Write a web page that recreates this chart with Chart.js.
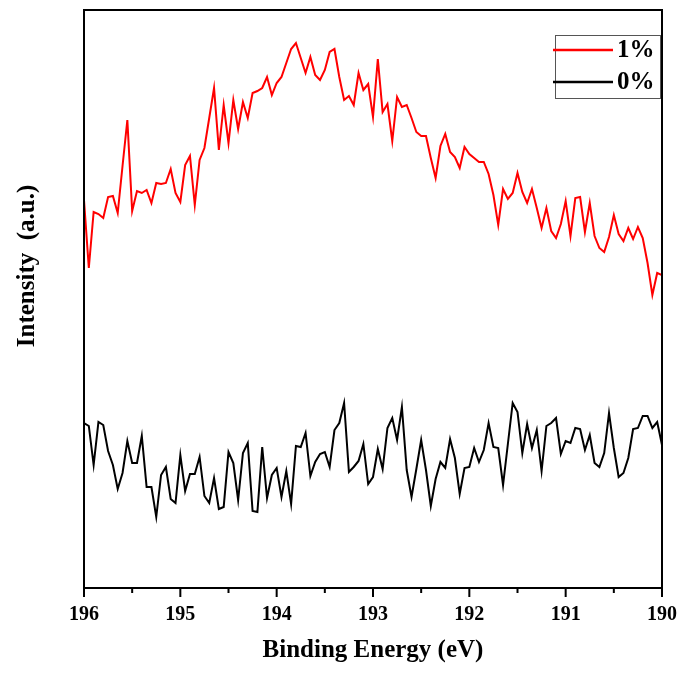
<!DOCTYPE html>
<html>
<head>
<meta charset="utf-8">
<script src="https://cdn.jsdelivr.net/npm/chart.js@4/dist/chart.umd.min.js"></script>
<style>
html,body{margin:0;padding:0;background:#fff;}
#wrap{width:681px;height:673px;}
</style>
</head>
<body>
<div id="wrap"><canvas id="c" width="681" height="673"></canvas></div>
<script>
// Binding energy grid (eV), scanned from 196 down to 190 in 0.05 eV steps
const energyStart = 196;
const energyStep = 0.05;
const pointCount = 121;

// Series labels
const seriesLabels = ["1%", "0%"];

// Intensity (a.u.)
const intensity1 = [
  388, 320, 376, 374, 370, 391, 392, 375, 422, 468,
  377, 397, 395, 398, 385, 405, 404, 405, 419, 395,
  386, 423, 432, 383, 428, 440, 470, 500, 438, 483,
  445, 488, 459, 486, 470, 495, 497, 500, 511, 493,
  505, 511, 525, 539, 545, 530, 515, 531, 513, 508,
  518, 536, 539, 511, 488, 492, 483, 515, 498, 504,
  471, 529, 476, 484, 447, 491, 481, 483, 470, 456,
  452, 452, 430, 410, 442, 454, 436, 431, 420, 441,
  434, 430, 426, 426, 414, 393, 363, 399, 389, 395,
  415, 396, 385, 399, 380, 360, 380, 357, 350, 364,
  387, 352, 390, 391, 356, 385, 352, 340, 336, 351,
  373, 354, 347, 360, 349, 361, 350, 325, 293, 315, 313
];
const intensity0 = [
  165, 162, 123, 166, 163, 137, 123, 99, 115, 147,
  125, 125, 152, 101, 101, 71, 113, 121, 89, 85,
  133, 97, 114, 114, 131, 92, 85, 110, 79, 81,
  136, 125, 88, 135, 145, 77, 76, 141, 90, 113,
  120, 91, 117, 84, 142, 141, 155, 112, 126, 134,
  136, 121, 158, 165, 185, 116, 121, 127, 144, 104,
  111, 139, 119, 160, 170, 148, 181, 118, 91, 119,
  148, 118, 82, 109, 126, 120, 149, 130, 94, 120,
  121, 140, 126, 138, 165, 141, 140, 103, 144, 185,
  176, 135, 164, 140, 158, 117, 162, 165, 170, 134,
  147, 145, 160, 159, 138, 153, 125, 121, 135, 175,
  140, 111, 115, 130, 159, 160, 172, 172, 160, 166, 143
];

// Axis ticks
const xTickValues = [196, 195, 194, 193, 192, 191, 190];
const xMinorTickValues = [195.5, 194.5, 193.5, 192.5, 191.5, 190.5];

const energies = [];
for (let i = 0; i < pointCount; i++) energies.push(+(energyStart - i * energyStep).toFixed(2));

const toPoints = arr => arr.map((v, i) => ({x: energies[i], y: v}));

const FONT = "'Liberation Serif', 'Times New Roman', serif";

const framePlugin = {
  id: 'frame',
  afterDraw(chart) {
    const {ctx, chartArea: a, scales} = chart;
    const xs = scales.x;
    ctx.save();
    ctx.strokeStyle = '#000';
    ctx.lineWidth = 2;
    ctx.lineCap = 'butt';
    // frame
    ctx.beginPath();
    ctx.moveTo(a.left, a.top - 1); ctx.lineTo(a.left, a.bottom + 1);
    ctx.moveTo(a.right, a.top - 1); ctx.lineTo(a.right, a.bottom + 1);
    ctx.moveTo(a.left - 1, a.bottom); ctx.lineTo(a.right + 1, a.bottom);
    ctx.moveTo(a.left - 1, a.top); ctx.lineTo(a.right + 1, a.top);
    ctx.stroke();
    // ticks
    ctx.beginPath();
    xTickValues.forEach(v => {
      const px = xs.getPixelForValue(v);
      ctx.moveTo(px, a.bottom); ctx.lineTo(px, a.bottom + 9);
    });
    xMinorTickValues.forEach(v => {
      const px = xs.getPixelForValue(v);
      ctx.moveTo(px, a.bottom); ctx.lineTo(px, a.bottom + 5);
    });
    ctx.stroke();
    // y axis title
    ctx.save();
    ctx.translate(34, 266);
    ctx.rotate(-Math.PI / 2);
    ctx.fillStyle = '#000';
    ctx.font = 'bold 25px ' + FONT;
    ctx.textAlign = 'center';
    ctx.textBaseline = 'alphabetic';
    ctx.fillText('Intensity  (a.u.)', 0, 0);
    ctx.restore();
    // legend
    const bx = 555, by = 35, bw = 105, bh = 63;
    ctx.lineWidth = 1;
    ctx.strokeStyle = '#555';
    ctx.strokeRect(bx + 0.5, by + 0.5, bw, bh);
    chart.data.datasets.forEach((ds, k) => {
      const ly = [50, 82][k];
      ctx.strokeStyle = ds.borderColor;
      ctx.lineWidth = 2.5;
      ctx.beginPath();
      ctx.moveTo(553, ly); ctx.lineTo(613, ly);
      ctx.stroke();
      ctx.fillStyle = '#000';
      ctx.font = 'bold 25px ' + FONT;
      ctx.textAlign = 'left';
      ctx.textBaseline = 'middle';
      ctx.fillText(ds.label, 617, ly + 1);
    });
    ctx.restore();
  }
};

new Chart(document.getElementById('c'), {
  type: 'line',
  data: {
    datasets: [
      {label: seriesLabels[0], data: toPoints(intensity1), borderColor: '#ff0000', borderWidth: 2, pointRadius: 0, tension: 0, fill: false},
      {label: seriesLabels[1], data: toPoints(intensity0), borderColor: '#000000', borderWidth: 2, pointRadius: 0, tension: 0, fill: false}
    ]
  },
  options: {
    responsive: false,
    animation: false,
    events: [],
    layout: {padding: {left: 0, right: 19, top: 10, bottom: 0}},
    plugins: {legend: {display: false}, tooltip: {enabled: false}},
    scales: {
      x: {
        type: 'linear',
        reverse: true,
        min: 190,
        max: 196,
        afterFit(s) { s.height = 85; s.paddingLeft = 0; s.paddingRight = 0; },
        afterBuildTicks(s) { s.ticks = xTickValues.map(v => ({value: v})); },
        grid: {display: false, drawTicks: false},
        border: {display: false},
        ticks: {
          padding: 15,
          color: '#000',
          font: {family: FONT, size: 20, weight: 'bold'},
          callback: v => String(v),
          maxRotation: 0,
          autoSkip: false
        },
        title: {
          display: true,
          text: 'Binding Energy (eV)',
          color: '#000',
          font: {family: FONT, size: 25, weight: 'bold'},
          padding: {top: 0, bottom: 7}
        }
      },
      y: {
        min: 0,
        max: 578,
        afterFit(s) { s.width = 84; },
        grid: {display: false, drawTicks: false},
        border: {display: false},
        ticks: {display: false}
      }
    }
  },
  plugins: [framePlugin]
});
</script>
</body>
</html>
